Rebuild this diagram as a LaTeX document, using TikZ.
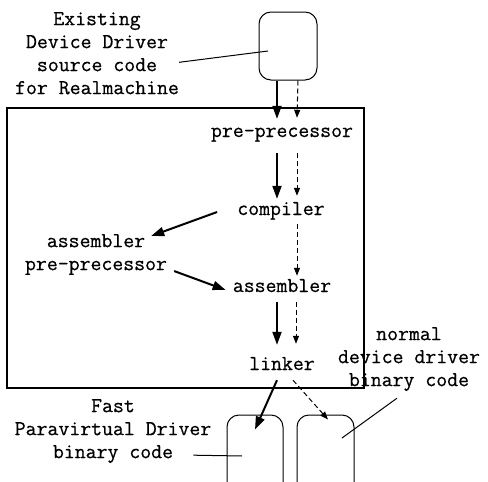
\documentclass[tikz,border=0pt]{standalone}
\usepackage{fontspec}
\setmonofont{Latin Modern Mono}[FakeBold=0.6]
\usetikzlibrary{arrows.meta}
\begin{document}
\begin{tikzpicture}[x=1pt,y=-1pt,
  font=\ttfamily\fontsize{21.2}{23}\selectfont,
  srcbox/.style={draw, line width=1pt, rounded corners=12pt},
  frame/.style={draw, line width=1.8pt, inner sep=0pt},
  txt/.style={inner xsep=0pt, inner ysep=3pt, text height=13pt, text depth=4pt, anchor=base},
  lbl/.style={inner sep=0pt, align=center, anchor=north},
  flow/.style={line width=2pt, -{Triangle[length=13pt,width=9pt]}},
  alt/.style={line width=1pt, dash pattern=on 5pt off 3pt, -{Triangle[length=8pt,width=6pt]}},
  lead/.style={line width=1pt}]
\useasboundingbox (0,0) rectangle (488,482);
\clip (0,0) rectangle (488,482);
% boxes
\node[srcbox, minimum width=58pt, minimum height=68pt] (src) at (288,46) {};
\node[frame, minimum width=357pt, minimum height=280pt] (sys) at (185.5,248) {};
\node[srcbox, minimum width=56pt, minimum height=80pt] (fast) at (255,455) {};
\node[srcbox, minimum width=57pt, minimum height=80pt] (normal) at (325.5,455) {};
% texts
\node[txt] (pre) at (282,137) {pre-precessor};
\node[txt] (comp) at (281,215) {compiler};
\node[txt] (asm) at (282,292) {assembler};
\node[txt] (link) at (282,370) {linker};
\node[lbl] (asmpre) at (96,234) {assembler\\pre-precessor};
\node[lbl] (srclbl) at (97,12) {Existing\\Device Driver\\source code\\for Realmachine};
\node[lbl] (fastlbl) at (113,399) {Fast\\Paravirtual Driver\\binary code};
\node[lbl] (normlbl) at (409,327) {normal\\device driver\\binary code};
% flow arrows
\draw[flow] ([xshift=-11pt]src.south) -- ([xshift=-5pt,yshift=2pt]pre.north);
\draw[alt] ([xshift=10pt]src.south) -- ([xshift=15pt,yshift=3pt]pre.north);
\draw[flow] ([xshift=-5pt,yshift=-9pt]pre.south) -- ([xshift=-4pt]comp.north);
\draw[alt] ([xshift=15pt,yshift=-9pt]pre.south) -- ([xshift=16pt,yshift=3pt]comp.north);
\draw[alt] ([xshift=16pt,yshift=-2pt]comp.south) -- ([xshift=15pt]asm.north);
\draw[flow] ([xshift=-20pt,yshift=-1.5pt]comp.west) -- ([xshift=-16pt,yshift=-2pt]asmpre.north east);
\draw[flow] ([xshift=7pt,yshift=4pt]asmpre.south east) -- ([xshift=-7pt,yshift=-2.5pt]asm.west);
\draw[flow] ([xshift=-5pt,yshift=-3pt]asm.south) -- ([xshift=-5pt,yshift=9pt]link.north);
\draw[alt] ([xshift=14pt,yshift=-3pt]asm.south) -- ([xshift=14pt,yshift=10pt]link.north);
\draw[flow] ([xshift=-5pt,yshift=-3pt]link.south) -- ([yshift=-15pt]fast.north);
\draw[alt] ([xshift=11pt,yshift=-3pt]link.south) -- ([xshift=2.5pt,yshift=-5pt]normal.north);
% leaders
\draw[lead] ([yshift=-9pt]srclbl.east) -- ([xshift=-20pt,yshift=-5pt]src.center);
\draw[lead] ([xshift=-18pt,yshift=8pt]fastlbl.south east) -- ([xshift=-13pt,yshift=-1pt]fast.center);
\draw[lead] ([xshift=-12pt,yshift=-7pt]normlbl.south) -- ([xshift=16.5pt,yshift=17pt]normal.center);
\end{tikzpicture}
\end{document}
